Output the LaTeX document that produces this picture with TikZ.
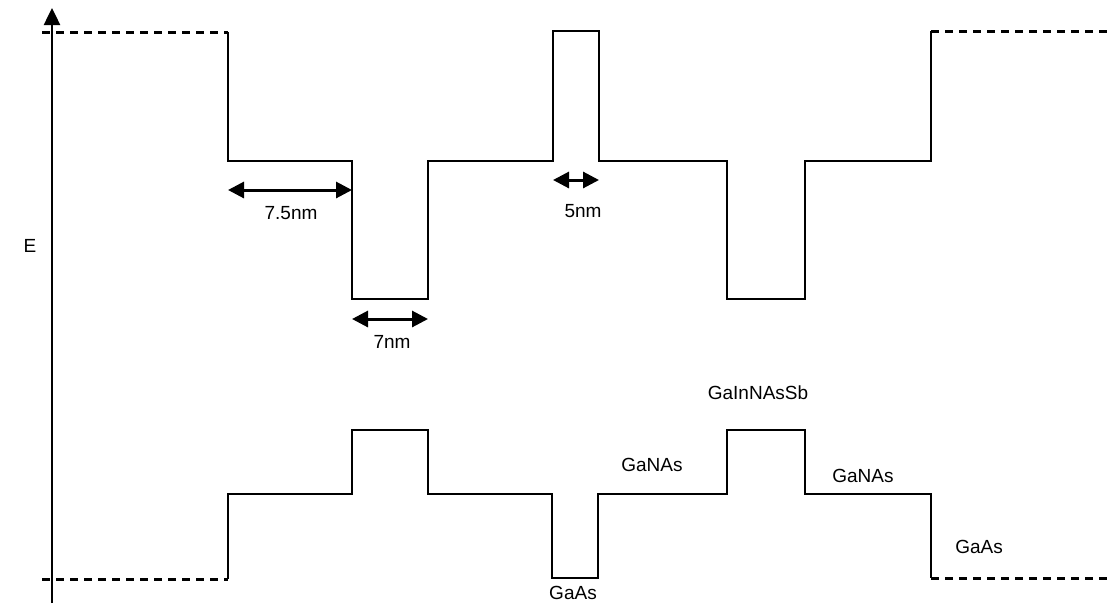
\documentclass[tikz,border=0pt]{standalone}
\usepackage{fontspec}
\setmainfont{Liberation Sans}
\usetikzlibrary{arrows.meta}
\begin{document}
\begin{tikzpicture}[x=1pt,y=-1pt,
  band/.style={line width=2.5pt, line join=miter},
  dashband/.style={line width=3pt, dash pattern=on 8pt off 6pt},
  axisline/.style={line width=2.5pt, -{Triangle[length=17pt,width=16pt]}},
  dimarrow/.style={line width=3pt, {Triangle[length=16pt,width=16pt]}-{Triangle[length=16pt,width=16pt]}},
  lbl/.style={font=\fontsize{19}{21}\selectfont, inner sep=0pt}]
\useasboundingbox (0,0) rectangle (1110,603);

% axis
\coordinate (ax0) at (52,603);
\coordinate (ax1) at (52,8);
\draw[axisline] (ax0) -- (ax1);
\node[lbl] (E) at (30,246) {E};

% conduction band
\coordinate (cL) at (42,32);
\coordinate (c1) at (228,32);
\coordinate (c2) at (931,31);
\coordinate (cR) at (1110,31);
\draw[dashband] (cL) -- (c1);
\draw[band] (c1) -- (228,161) -- (352,161) -- (352,299) -- (428,299) -- (428,161)
  -- (553,161) -- (553,31) -- (599,31) -- (599,161) -- (727,161) -- (727,299)
  -- (805,299) -- (805,161) -- (931,161) -- (c2);
\draw[dashband] (c2) -- (cR);

% valence band
\coordinate (vL) at (42,579);
\coordinate (v1) at (228,579);
\coordinate (v2) at (931,578);
\coordinate (vR) at (1110,578);
\draw[dashband] (vL) -- (v1);
\draw[band] (v1) -- (228,494) -- (352,494) -- (352,430) -- (428,430) -- (428,494)
  -- (552,494) -- (552,578) -- (598,578) -- (598,494) -- (727,494) -- (727,430)
  -- (805,430) -- (805,494) -- (931,494) -- (v2);
\draw[dashband] (v2) -- (vR);

% dimension arrows
\coordinate (d1a) at (228,190);
\coordinate (d1b) at (352,190);
\draw[dimarrow] (d1a) -- (d1b);
\node[lbl] (l75) at (291,213) {7.5nm};

\coordinate (d2a) at (553,180);
\coordinate (d2b) at (599,180);
\draw[dimarrow] (d2a) -- (d2b);
\node[lbl] (l5) at (583,211) {5nm};

\coordinate (d3a) at (352,319);
\coordinate (d3b) at (428,319);
\draw[dimarrow] (d3a) -- (d3b);
\node[lbl] (l7) at (392,342) {7nm};

% material labels
\node[lbl] (m1) at (758,393) {GaInNAsSb};
\node[lbl] (m2) at (652,465) {GaNAs};
\node[lbl] (m3) at (863,476) {GaNAs};
\node[lbl] (m4) at (979,547) {GaAs};
\node[lbl] (m5) at (573,593) {GaAs};
\end{tikzpicture}
\end{document}
